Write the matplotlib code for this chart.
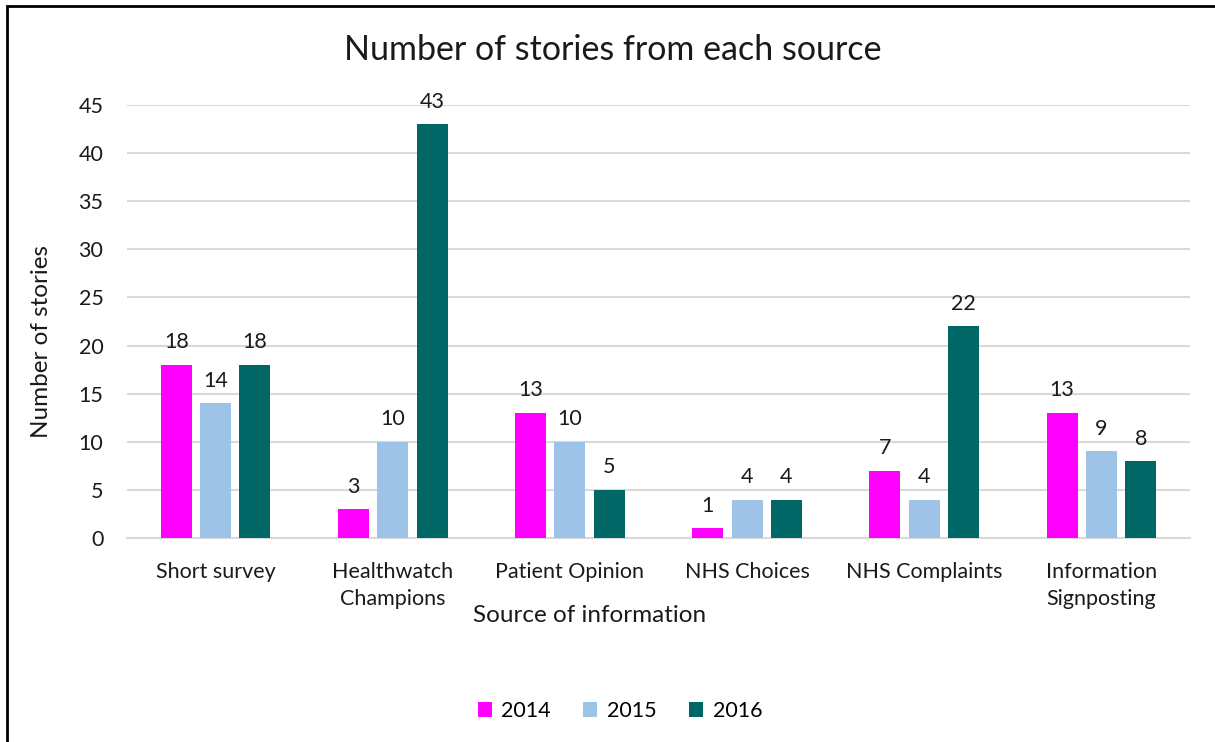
import numpy as np
import matplotlib.pyplot as plt
from matplotlib.patches import Rectangle

plt.rcParams['font.family'] = ['Lato', 'DejaVu Sans']

# Stories per source, by year
sources = ['Short survey', 'Healthwatch\nChampions', 'Patient Opinion',
           'NHS Choices', 'NHS Complaints', 'Information\nSignposting']
years = ['2014', '2015', '2016']
counts_2014 = [18, 3, 13, 1, 7, 13]
counts_2015 = [14, 10, 10, 4, 4, 9]
counts_2016 = [18, 43, 5, 4, 22, 8]
colors = ['#ff00ff', '#9dc3e6', '#006666']

W, H = 1215, 742
fig = plt.figure(figsize=(W / 100, H / 100), dpi=100)
ax = fig.add_axes([127 / W, 1 - 538 / H, (1190 - 127) / W, (538 - 105) / H])

x = np.arange(len(sources))
width = 0.175
step = 0.222

for i, (year, vals, c) in enumerate(zip(years, [counts_2014, counts_2015, counts_2016], colors)):
    pos = x + (i - 1) * step
    bars = ax.bar(pos, vals, width, color=c, label=year, zorder=3)
    for b, v in zip(bars, vals):
        ax.text(b.get_x() + b.get_width() / 2, v + 1.3, str(v),
                ha='center', va='bottom', fontsize=15.5, color='#1a1a1a')

ax.set_xlim(-0.5, len(sources) - 0.5)
ax.set_ylim(0, 45)
ax.set_yticks(range(0, 46, 5))
ax.yaxis.grid(True, color='#d9d9d9', linewidth=1.5, zorder=0)
ax.set_axisbelow(True)
for side in ['top', 'right', 'left']:
    ax.spines[side].set_visible(False)
ax.spines['bottom'].set_color('#d9d9d9')
ax.spines['bottom'].set_linewidth(1.5)
ax.tick_params(axis='both', length=0, labelsize=15.5, colors='#1a1a1a')
ax.tick_params(axis='y', pad=17)
ax.tick_params(axis='x', pad=17)
ax.set_xticks(x)
ax.set_xticklabels(sources, linespacing=1.45)

fig.text(613 / W, 1 - 50 / H, 'Number of stories from each source',
         ha='center', va='center', fontsize=24.5, color='#1a1a1a')
fig.text(590 / W, 1 - 616 / H, 'Source of information',
         ha='center', va='center', fontsize=17.5, color='#1a1a1a')
fig.text(42 / W, 1 - 342 / H, 'Number of stories', rotation=90,
         ha='center', va='center', fontsize=17.5, color='#1a1a1a')

fig.legend(loc='center', bbox_to_anchor=(620 / W, 1 - 711 / H), ncol=3,
           frameon=False, fontsize=15.5, handlelength=0.65, handleheight=0.65,
           columnspacing=1.5, handletextpad=0.45)

# outer chart border, running off the right and bottom edges
fig.patches.append(Rectangle((7 / W, -0.1), 1.2, 1 - 6 / H + 0.1,
                             transform=fig.transFigure, fill=False,
                             edgecolor='black', linewidth=2))

fig.savefig('out.png', dpi=100)
